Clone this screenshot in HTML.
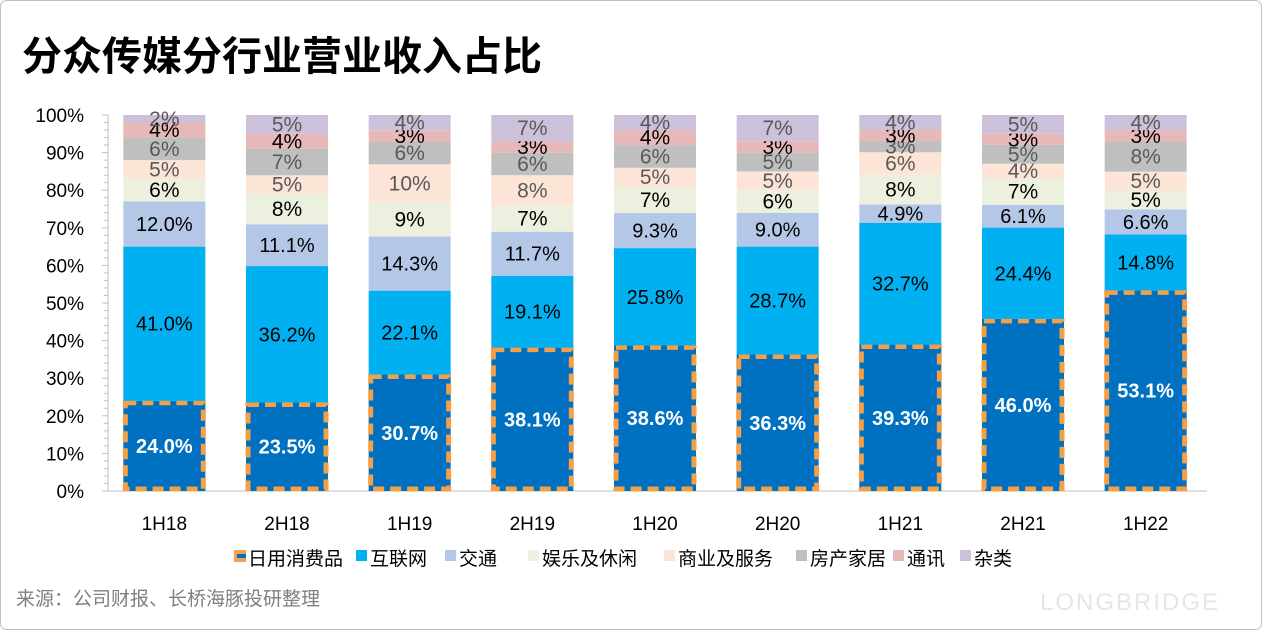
<!DOCTYPE html>
<html><head><meta charset="utf-8"><style>
body{margin:0;background:#fff;}
#wrap{position:relative;width:1262px;height:630px;overflow:hidden;font-family:"Liberation Sans","Noto Sans CJK SC",sans-serif;}
</style></head><body>
<div id="wrap">
<svg id="chart" width="1262" height="630" xmlns="http://www.w3.org/2000/svg">
<rect x="0.5" y="0.5" width="1261" height="629" rx="6" fill="#fff" stroke="#bfbfbf"/>
<text x="22" y="70" font-size="40" font-weight="bold" fill="#000" font-family="'Liberation Sans','Noto Sans CJK SC',sans-serif">分众传媒分行业营业收入占比</text>
<text x="1040" y="610" font-size="24" fill="#e6e6e6" letter-spacing="2">LONGBRIDGE</text>
<text x="16" y="605" font-size="19" fill="#7f7f7f" font-family="'Liberation Sans','Noto Sans CJK SC',sans-serif">来源：公司财报、长桥海豚投研整理</text>
<g id="plot"></g>
<g id="legend"></g>
</svg>
</div>
<script>
const categories=["1H18","2H18","1H19","2H19","1H20","2H20","1H21","2H21","1H22"];
const seriesNames=["日用消费品","互联网","交通","娱乐及休闲","商业及服务","房产家居","通讯","杂类"];
const sDaily=[24.0,23.5,30.7,38.1,38.6,36.3,39.3,46.0,53.1];
const sInternet=[41.0,36.2,22.1,19.1,25.8,28.7,32.7,24.4,14.8];
const sTransport=[12.0,11.1,14.3,11.7,9.3,9.0,4.9,6.1,6.6];
const sLeisure=[6,8,9,7,7,6,8,7,5];
const sBusiness=[5,5,10,8,5,5,6,4,5];
const sHome=[6,7,6,6,6,5,3,5,8];
const sTelecom=[4,4,3,3,4,3,3,3,3];
const sMisc=[2,5,4,7,4,7,4,5,4];
const yTicks=[0,10,20,30,40,50,60,70,80,90,100];
const series=[sDaily,sInternet,sTransport,sLeisure,sBusiness,sHome,sTelecom,sMisc];
const colors=["#0070C0","#00B0F0","#B4C7E7","#EBF1DE","#FCE4D6","#BFBFBF","#E6B9B8","#CCC0DA"];
const labelColors=["#fff","#000","#000","#000","#595959","#595959","#000","#595959"];
const decimals=[1,1,1,0,0,0,0,0];
const NS="http://www.w3.org/2000/svg";
const plot=document.getElementById('plot');
const x0=103,x1=1207,y0=491,y1=115;
const step=(x1-x0)/categories.length,bw=82;
const yS=v=>y0-(v/100)*(y0-y1);
const xC=i=>x0+step*(i+0.5);
function mk(tag,attrs,parent){const e=document.createElementNS(NS,tag);for(const k in attrs)e.setAttribute(k,attrs[k]);(parent||plot).appendChild(e);return e;}
let ax=mk('line',{x1:108,y1:y1,x2:108,y2:y0,stroke:'#bfbfbf'});


let bx=mk('line',{x1:108,y1:y0,x2:x1,y2:y0,stroke:'#bfbfbf'});


for(let v=0;v<=100;v+=2){mk('line',{x1:v%10===0?102:104,y1:yS(v),x2:108,y2:yS(v),stroke:'#bfbfbf'});}
yTicks.forEach(v=>{const t=mk('text',{x:84,y:yS(v)+7,'font-size':19,'text-anchor':'end',fill:'#000'});t.textContent=v+'%';

});
categories.forEach((c,i)=>{
  let total=0;series.forEach(s=>total+=s[i]);
  let acc=0;const cx=xC(i);
  series.forEach((s,k)=>{
    const v=s[i]*100/total;const ya=yS(acc),yb=yS(acc+v);acc+=v;
    const r=mk('rect',{x:cx-bw/2,y:yb,width:bw,height:ya-yb,fill:colors[k]});
    
    
    if(k===0){const b=mk('rect',{x:cx-bw/2+2,y:yb+2,width:bw-4,height:ya-yb-4,fill:'none',stroke:'#F4A04A','stroke-width':5,'stroke-dasharray':'11,6'});
      
      }
    const t=mk('text',{x:cx,y:(ya+yb)/2+7,'font-size':k<3?20:21,'text-anchor':'middle',fill:labelColors[k],'font-weight':k===0?'bold':'normal'});
    t.textContent=s[i].toFixed(decimals[k])+'%';
    
    
  });
  const t=mk('text',{x:cx,y:530,'font-size':19,'text-anchor':'middle',fill:'#000'});
  t.textContent=c;
  
  
});
const lg=document.getElementById('legend');
const lx=[234,356,445,528,664,796,893,960];
seriesNames.forEach((n,k)=>{
  const g=mk('g',{},lg);
  
  
  if(k===0){mk('rect',{x:lx[k],y:550,width:12,height:12,fill:'#F4A04A'},g);mk('rect',{x:lx[k]+3,y:554,width:9,height:4,fill:'#0070C0'},g);}
  else mk('rect',{x:lx[k],y:550,width:11,height:11,fill:colors[k]},g);
  const t=mk('text',{x:lx[k]+14,y:565,'font-size':19,fill:'#000','font-family':"'Liberation Sans','Noto Sans CJK SC',sans-serif"},g);
  t.textContent=n;
});
</script>
</body></html>
